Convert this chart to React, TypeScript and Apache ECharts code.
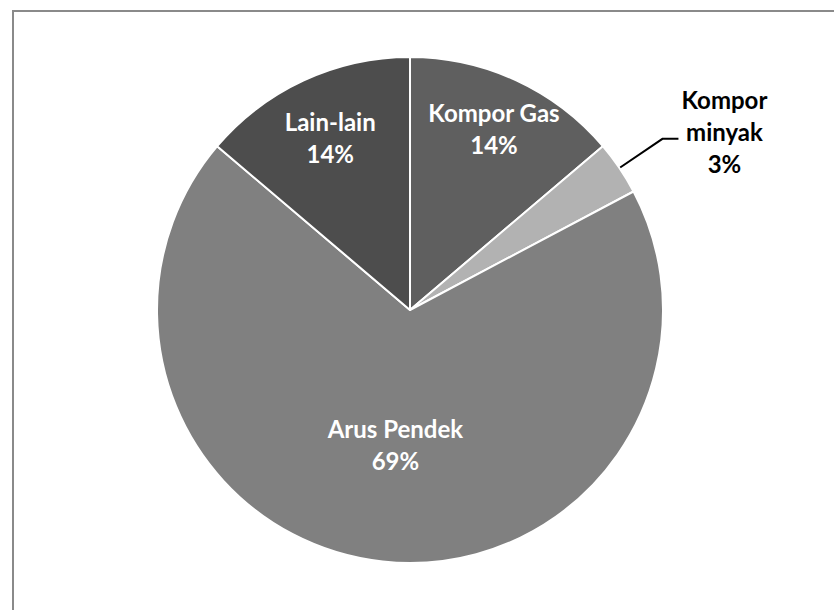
import React, { useEffect, useRef } from "react";
import * as echarts from "echarts";

const categories = ["Kompor Gas", "Kompor minyak", "Arus Pendek", "Lain-lain"];
const values = [4, 1, 20, 4];
const percentLabels = ["14%", "3%", "69%", "14%"];
const sliceColors = ["#5f5f5f", "#b2b2b2", "#808080", "#4d4d4d"];

const CX = 410;
const CY = 310;
const R = 253;
const insideLabelRadius: Record<number, number> = { 0: 200, 2: 135, 3: 190 };

export default function App() {
  const ref = useRef<HTMLDivElement>(null);
  useEffect(() => {
    if (!ref.current) return;
    const chart = echarts.init(ref.current, undefined, { renderer: "svg" });
    const total = values.reduce((a, b) => a + b, 0);
    const mids: number[] = [];
    let cum = 0;
    values.forEach((v) => {
      mids.push(((cum + v / 2) / total) * Math.PI * 2);
      cum += v;
    });
    const font = "Lato, 'Open Sans', sans-serif";
    chart.setOption({
      animation: false,
      backgroundColor: "#ffffff",
      graphic: [
        {
          type: "rect",
          shape: { x: 13, y: 11, width: 900, height: 700 },
          style: { fill: "none", stroke: "#8a8a8a", lineWidth: 2 },
          silent: true,
        },
      ],
      series: [
        {
          type: "pie",
          center: [CX, CY],
          radius: [0, R],
          startAngle: 90,
          clockwise: true,
          avoidLabelOverlap: false,
          itemStyle: { borderColor: "#ffffff", borderWidth: 2 },
          data: categories.map((name, i) => {
            const base: any = {
              name,
              value: values[i],
              itemStyle: { color: sliceColors[i] },
            };
            if (i === 1) {
              base.label = {
                show: true,
                position: "outside",
                formatter: `{a|Kompor}\n{a|minyak}\n{a|${percentLabels[i]}}`,
                distanceToLabelLine: 1,
                padding: [0, 0, 14, 0],
                rich: {
                  a: {
                    width: 90,
                    align: "center",
                    fontFamily: font,
                    fontWeight: "bold",
                    fontSize: 24,
                    lineHeight: 32,
                    color: "#000000",
                  },
                },
              };
              base.labelLine = {
                show: true,
                length: 52,
                length2: 16,
                lineStyle: { color: "#000000", width: 2 },
              };
            } else {
              base.label = {
                show: true,
                position: "inside",
                formatter: `${name}\n${percentLabels[i]}`,
                color: "#ffffff",
                fontFamily: font,
                fontWeight: "bold",
                fontSize: 24,
                lineHeight: 32,
                align: "center",
              };
              base.labelLine = { show: false };
            }
            return base;
          }),
          labelLayout: (params: any) => {
            const i = params.dataIndex;
            const lr = insideLabelRadius[i];
            if (lr == null) return {};
            return {
              x: CX + lr * Math.sin(mids[i]),
              y: CY - lr * Math.cos(mids[i]),
              align: "center",
              verticalAlign: "middle",
            };
          },
        },
      ],
    });
    return () => chart.dispose();
  }, []);
  return (
    <div
      ref={ref}
      style={{ position: "fixed", left: 0, top: 0, width: 834, height: 610 }}
    />
  );
}
